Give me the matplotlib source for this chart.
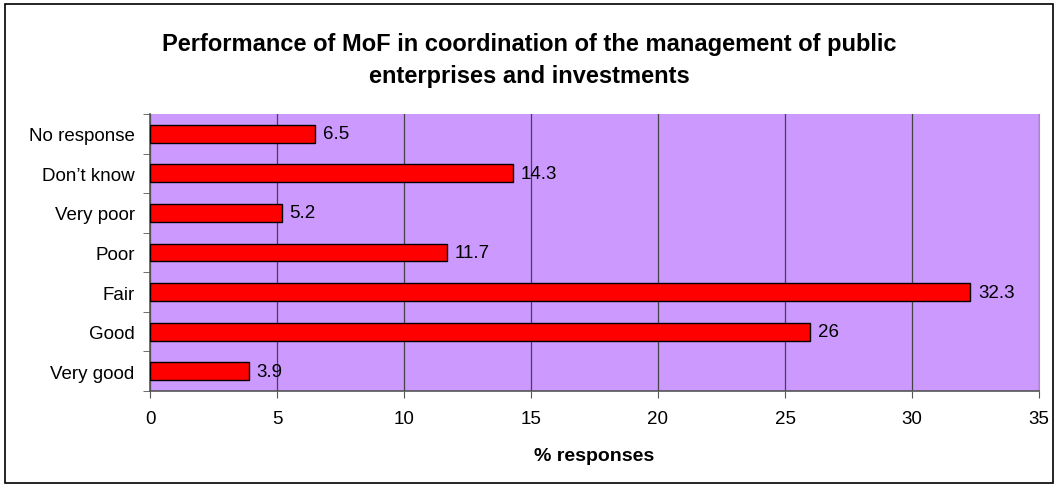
import numpy as np
import matplotlib.pyplot as plt
from matplotlib.patches import Rectangle

categories = ['Very good', 'Good', 'Fair', 'Poor', 'Very poor', "Don\u2019t know", 'No response']
values = [3.9, 26, 32.3, 11.7, 5.2, 14.3, 6.5]
labels = ['3.9', '26', '32.3', '11.7', '5.2', '14.3', '6.5']
xticks = [0, 5, 10, 15, 20, 25, 30, 35]

plt.rcParams['font.family'] = ['Liberation Sans', 'DejaVu Sans']

fig = plt.figure(figsize=(10.59, 4.89), dpi=100)
ax = fig.add_axes([150/1059, 1-392/489, 889/1059, 277/489])

# outer chart border
fig.patches.append(Rectangle((5/1059, 5/489), 1048/1059, 479/489, transform=fig.transFigure,
                             fill=False, edgecolor='black', linewidth=1.2))

ax.set_facecolor('#CC99FF')
y = np.arange(len(categories))
ax.barh(y, values, height=0.45, color='#FF0000', edgecolor='black', linewidth=1, zorder=3)
for yi, v, lab in zip(y, values, labels):
    ax.text(v + 0.3, yi, lab, va='center', ha='left', fontsize=13.5, zorder=4)

ax.set_xlim(0, 35)
ax.set_ylim(-0.5, len(categories) - 0.5)
ax.set_xticks(xticks)
ax.set_yticks(y)
ax.set_yticklabels(categories, fontsize=13.5)
ax.set_yticks(np.arange(-0.5, len(categories)), minor=True)
ax.tick_params(axis='y', which='major', length=0, pad=11)
ax.tick_params(axis='y', which='minor', length=5, direction='out', color='#555555')
ax.tick_params(axis='x', length=5, direction='out', color='#555555', labelsize=13.5, pad=9)
ax.grid(axis='x', color='#444444', linewidth=0.9, zorder=1)
ax.spines['top'].set_visible(False)
ax.spines['right'].set_color('#999999')
for s in ['left', 'bottom']:
    ax.spines[s].set_color('#555555')
    ax.spines[s].set_linewidth(1.2)

ax.set_xlabel('% responses', fontsize=14, fontweight='bold', labelpad=14)
fig.text(0.5, 1-60/489, 'Performance of MoF in coordination of the management of public\nenterprises and investments',
         ha='center', va='center', fontsize=17, fontweight='bold', linespacing=1.5)

fig.savefig('out.png', dpi=100)
